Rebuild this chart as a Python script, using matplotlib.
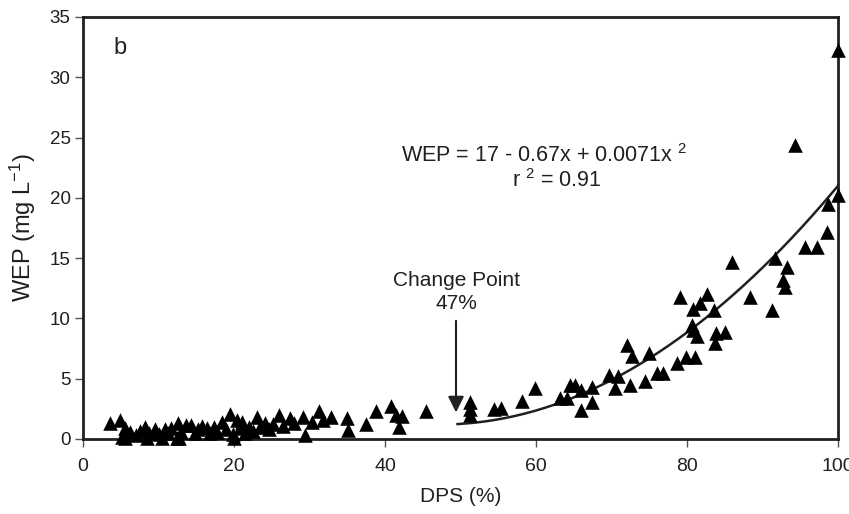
import matplotlib
matplotlib.use("Agg")
import matplotlib.pyplot as plt
import numpy as np
from matplotlib import font_manager

# ---- data ----
dps_low = [3.6, 4.9, 5.1, 5.5, 5.5, 6.2, 7.0, 7.5, 8.2, 8.5, 8.8, 9.5, 10.0, 10.5, 10.8, 11.2,
           11.6, 12.4, 12.6, 12.7, 13.0, 13.6, 14.3, 14.8, 15.2, 15.7, 16.4, 16.8, 17.3, 17.8,
           18.4, 18.9, 19.5, 19.8, 20.0, 20.4, 20.8, 21.0, 21.5, 22.0, 22.5, 23.0, 23.5, 24.1,
           24.6, 25.2, 25.9, 26.5, 27.4, 28.0, 29.2, 29.4, 30.3, 31.2, 31.8, 32.9, 34.9, 35.1,
           37.5, 38.8, 40.8, 41.5, 42.2, 41.9, 45.4]
wep_low = [1.3, 1.6, 0.2, 0.9, 0.05, 0.6, 0.3, 0.7, 1.0, 0.05, 0.5, 0.8, 0.4, 0.05, 0.8, 0.5,
           0.9, 0.1, 1.3, 0.05, 0.6, 1.15, 1.15, 0.5, 0.8, 1.1, 0.9, 0.5, 1.0, 0.6,
           1.4, 0.8, 2.1, 0.4, 0.1, 1.6, 0.9, 1.4, 0.5, 1.0, 0.7, 1.85, 1.0, 1.3,
           0.8, 1.2, 2.0, 1.1, 1.7, 1.3, 1.85, 0.3, 1.4, 2.3, 1.6, 1.85, 1.7, 0.75,
           1.2, 2.3, 2.7, 2.0, 1.9, 1.0, 2.3]
dps_high = [51.2, 51.2, 51.3, 54.4, 55.3, 58.1, 59.9, 63.2, 64.1, 64.5, 65.2, 66.0, 66.0, 67.4,
            67.4, 69.7, 70.8, 70.5, 72.5, 74.4, 76.0, 76.8, 78.7, 79.8, 81.1, 72.0, 72.7, 75.0,
            83.9, 85.0, 83.7, 80.7, 80.8, 81.3, 80.8, 81.7, 83.6, 79.1, 82.7, 88.3, 91.3, 85.9,
            91.7, 93.3, 92.7, 93.0, 95.6, 97.2, 98.5, 98.7, 94.3, 100.0, 100.0]
wep_high = [3.1, 2.5, 2.0, 2.45, 2.6, 3.15, 4.2, 3.4, 3.4, 4.5, 4.5, 4.06, 2.4, 4.3,
            3.1, 5.3, 5.2, 4.2, 4.5, 4.8, 5.5, 5.5, 6.3, 6.8, 6.8, 7.8, 6.9, 7.15,
            8.8, 8.9, 8.0, 9.45, 9.0, 8.5, 10.75, 11.25, 10.7, 11.8, 12.0, 11.8, 10.7, 14.7,
            15.0, 14.3, 13.2, 12.6, 15.9, 15.9, 17.2, 19.5, 24.4, 32.3, 20.2]

# regression stated on the chart: WEP = 17 - 0.67x + 0.0071x^2, drawn from x = 49.6 to 100
fit_coef = [0.0071, -0.67, 17.0]
fit_range = [49.6, 100.0]

x_ticks = [0, 20, 40, 60, 80, 100]
y_ticks = [0, 5, 10, 15, 20, 25, 30, 35]

names = {f.name for f in font_manager.fontManager.ttflist}
main_font = "Liberation Sans" if "Liberation Sans" in names else "DejaVu Sans"
narrow_font = "Liberation Sans Narrow" if "Liberation Sans Narrow" in names else main_font

plt.rcParams["font.family"] = [main_font, "DejaVu Sans"]
plt.rcParams["mathtext.fontset"] = "custom"
plt.rcParams["mathtext.rm"] = main_font
plt.rcParams["mathtext.it"] = main_font

ink = "#231f20"
fig = plt.figure(figsize=(8.49, 5.14), dpi=100)
ax = fig.add_axes([0.0978, 0.146, 0.8893, 0.821])

ax.scatter(dps_low + dps_high, wep_low + wep_high, marker="^", s=110, color="black",
           linewidths=0, clip_on=False, zorder=3)

xs = np.linspace(fit_range[0], fit_range[1], 200)
ax.plot(xs, np.polyval(fit_coef, xs), color=ink, lw=1.8, zorder=2)

ax.set_xlim(0, 100)
ax.set_ylim(0, 35)
ax.set_xticks(x_ticks)
ax.set_yticks(y_ticks)
for s in ax.spines.values():
    s.set_linewidth(2.0)
    s.set_color(ink)
ax.tick_params(direction="out", length=6, width=1.0, color="#555555", labelsize=13.5,
               labelcolor=ink, pad=3)
ax.tick_params(axis="x", pad=8)
for lab in ax.get_xticklabels():
    lab.set_fontfamily(narrow_font)
    lab.set_fontsize(14)

ax.set_xlabel("DPS (%)", fontsize=15, family=narrow_font, labelpad=8, color=ink)
ax.set_ylabel("WEP (mg L$^{-1}$)", fontsize=17, labelpad=8, color=ink)

ax.text(4.9, 32.4, "b", fontsize=17, ha="center", va="center", color=ink)
ax.text(61.0, 23.5, "WEP = 17 - 0.67x + 0.0071x $^{2}$", fontsize=15.5, ha="center",
        va="center", color=ink)
ax.text(62.8, 21.4, "r $^{2}$ = 0.91", fontsize=15.5, ha="center", va="center", color=ink)

ax.text(49.4, 12.2, "Change Point\n47%", fontsize=15, family=narrow_font, ha="center",
        va="center", linespacing=1.3, color=ink)
ax.annotate("", xy=(49.4, 2.2), xytext=(49.4, 9.8),
            arrowprops=dict(arrowstyle="-|>", color=ink, lw=1.5,
                            mutation_scale=24, shrinkA=0, shrinkB=0))

fig.savefig("out.png", dpi=100)
